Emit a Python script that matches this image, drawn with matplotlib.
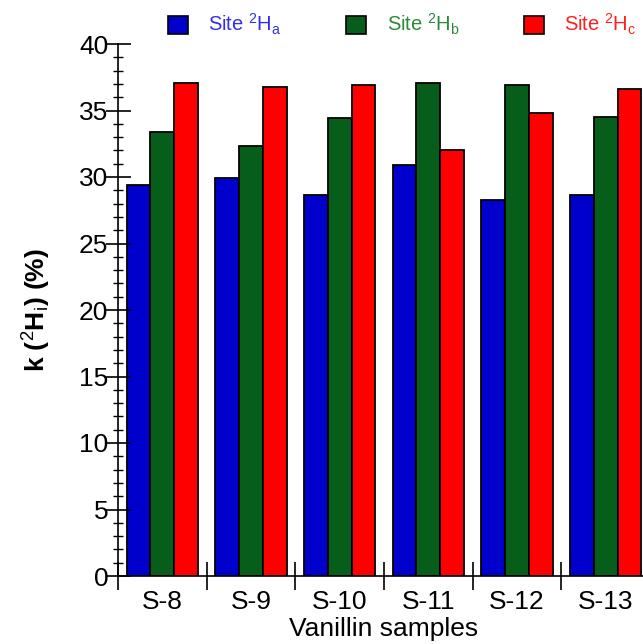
import numpy as np
import matplotlib
matplotlib.use('Agg')
import matplotlib.pyplot as plt
from matplotlib.patches import Patch
from matplotlib.ticker import MultipleLocator, FixedLocator

plt.rcParams['font.family'] = ['Liberation Sans', 'DejaVu Sans']
plt.rcParams['mathtext.fontset'] = 'custom'
plt.rcParams['mathtext.rm'] = 'Liberation Sans'
plt.rcParams['mathtext.it'] = 'Liberation Sans'
plt.rcParams['mathtext.bf'] = 'Liberation Sans:bold'

# data
samples = ['S-8', 'S-9', 'S-10', 'S-11', 'S-12', 'S-13']
site_a = [29.4, 29.9, 28.65, 30.9, 28.3, 28.65]
site_b = [33.4, 32.3, 34.4, 37.1, 36.9, 34.5]
site_c = [37.1, 36.75, 36.9, 32.0, 34.8, 36.6]

series = [site_a, site_b, site_c]
labels = [r'Site $^{2}$H$_{a}$', r'Site $^{2}$H$_{b}$', r'Site $^{2}$H$_{c}$']
bar_colors = ['#0000cc', '#075e1b', '#ff0000']
text_colors = ['#3030e8', '#2e8a3a', '#ff1f1f']

fig = plt.figure(figsize=(6.43, 6.44), dpi=100)
ax = fig.add_axes([118/643, 68/644, 532/643, 532/644])

x = np.arange(len(samples)) + 0.5
w = 0.267
for j, (vals, col) in enumerate(zip(series, bar_colors)):
    ax.bar(x + (j - 1)*w, vals, width=w, color=col, edgecolor='black',
           linewidth=1.3, label=labels[j])

ax.set_xlim(0, len(samples))
ax.set_ylim(0, 40)

for s in ['top', 'right']:
    ax.spines[s].set_visible(False)
for s in ['left', 'bottom']:
    ax.spines[s].set_linewidth(1.2)

ax.yaxis.set_major_locator(MultipleLocator(5))
ax.yaxis.set_minor_locator(MultipleLocator(1))
ax.tick_params(axis='y', which='major', direction='inout', length=18, width=1.2,
               labelsize=19, pad=-2)
ax.tick_params(axis='y', which='minor', direction='inout', length=7, width=1.0)

ax.xaxis.set_major_locator(FixedLocator(np.arange(len(samples) + 1)))
ax.xaxis.set_minor_locator(FixedLocator(x))
ax.set_xticklabels([])
ax.set_xticklabels(samples, minor=True)
ax.tick_params(axis='x', which='major', direction='inout', length=20, width=1.2)
ax.tick_params(axis='x', which='minor', length=0, labelsize=19, pad=10)

ax.set_xlabel('Vanillin samples', fontsize=19, labelpad=2)
ax.set_ylabel(r'k ($^{2}$H$_{i}$) (%)', fontsize=19, fontweight='bold')
ax.yaxis.set_label_coords(-0.122, 0.5)

handles = [Patch(facecolor=c, edgecolor='black', linewidth=1.2) for c in bar_colors]
leg = fig.legend(handles, labels, loc='center left', bbox_to_anchor=(150/643, 0.962),
                 ncol=3, frameon=False, fontsize=14.5, handlelength=1.0, handleheight=1.0,
                 handletextpad=1.0, columnspacing=3.2, labelcolor=text_colors)

fig.savefig('out.png', dpi=100)
